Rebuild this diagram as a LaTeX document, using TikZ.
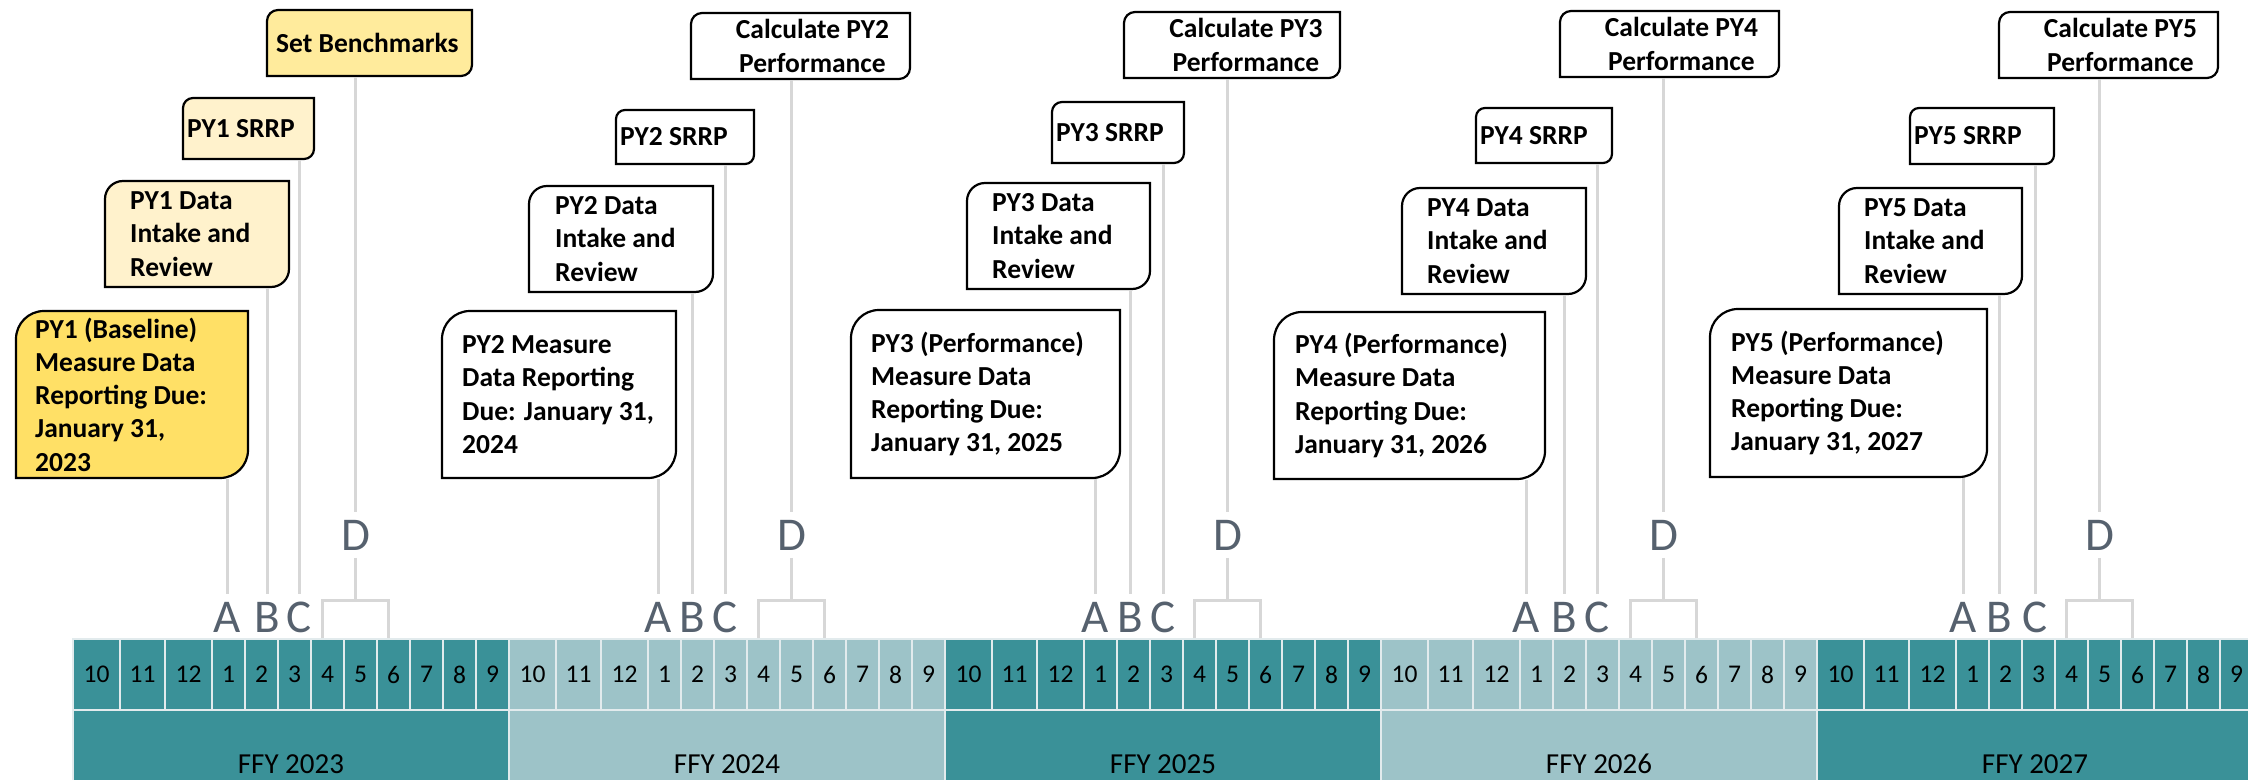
\documentclass[tikz,border=0pt]{standalone}
\usepackage{fontspec}
\setmainfont{Carlito}
\usetikzlibrary{backgrounds,positioning}

\definecolor{tealdark}{RGB}{58,145,152}
\definecolor{teallight}{RGB}{157,195,200}
\definecolor{sepgray}{RGB}{226,235,237}
\definecolor{conngray}{RGB}{215,215,215}
\definecolor{lettergray}{RGB}{86,97,110}
\definecolor{benchfill}{RGB}{255,235,156}
\definecolor{palefill}{RGB}{255,242,204}
\definecolor{goldfill}{RGB}{255,224,102}

\tikzset{
  pybox/.style={anchor=north west, inner sep=0pt, outer sep=0pt},
  boxtxt/.style={inner sep=0pt, align=left, font=\fontsize{27.5}{33.3}\selectfont\bfseries},
  frameline/.style={draw=black, line width=2.2pt, line join=miter},
  conn/.style={draw=conngray, line width=3pt},
  letter/.style={inner sep=7.5pt, text=lettergray, font=\fontsize{47}{50}\selectfont},
  mcell/.style={draw=sepgray, line width=1.5pt, minimum height=71pt, inner sep=0pt, font=\fontsize{25.5}{30}\selectfont},
  ycell/.style={draw=sepgray, line width=1.5pt, minimum height=108pt, minimum width=436pt, inner sep=0pt, font=\fontsize{29}{33}\selectfont}
}

% rectangle with rounded top left and bottom right corners
\newcommand{\diagframe}[3]{%
  \draw[frameline,fill=#3] (#1.south west) -- ([yshift=-#2]#1.north west)
    arc[start angle=180,end angle=90,radius=#2] -- (#1.north east)
    -- ([yshift=#2]#1.south east)
    arc[start angle=0,end angle=-90,radius=#2] -- cycle;}

\begin{document}
\begin{tikzpicture}[x=1pt,y=1pt]
\useasboundingbox (0,0) rectangle (2248,-779);
\clip (0,0) rectangle (2248,-779);

% PY1
\node[pybox, minimum width=205pt, minimum height=66pt] (bench) at (267,-10) {};
\node[pybox, minimum width=131pt, minimum height=61pt] (srrp1) at (183,-98) {};
\node[pybox, minimum width=184pt, minimum height=106pt] (data1) at (105,-181) {};
\node[pybox, minimum width=232pt, minimum height=167pt] (meas1) at (16,-311) {};
\node[boxtxt, right=9pt of bench.west] (bencht) {Set Benchmarks};
\node[boxtxt, right=4pt of srrp1.west] (srrp1t) {PY1 SRRP};
\node[boxtxt, right=25pt of data1.west] (data1t) {PY1 Data\\Intake and\\Review};
\node[boxtxt, right=19pt of meas1.west] (meas1t) {PY1 (Baseline)\\Measure Data\\Reporting Due:\\January 31,\\2023};

% PY2
\node[pybox, minimum width=219pt, minimum height=66pt] (calc2) at (691,-13) {};
\node[pybox, minimum width=138pt, minimum height=54pt] (srrp2) at (616,-110) {};
\node[pybox, minimum width=184pt, minimum height=106pt] (data2) at (529,-186) {};
\node[pybox, minimum width=234pt, minimum height=167pt] (meas2) at (442,-311) {};
\node[boxtxt, align=center] (calc2t) at ([xshift=12pt]calc2.center) {Calculate PY2\\Performance};
\node[boxtxt, right=4pt of srrp2.west] (srrp2t) {PY2 SRRP};
\node[boxtxt, right=26pt of data2.west] (data2t) {PY2 Data\\Intake and\\Review};
\node[boxtxt, right=20pt of meas2.west] (meas2t) {PY2 Measure\\Data Reporting\\Due: January 31,\\2024};

% PY3
\node[pybox, minimum width=216pt, minimum height=66pt] (calc3) at (1124,-12) {};
\node[pybox, minimum width=132pt, minimum height=61pt] (srrp3) at (1052,-102) {};
\node[pybox, minimum width=183pt, minimum height=106pt] (data3) at (967,-183) {};
\node[pybox, minimum width=269pt, minimum height=168pt] (meas3) at (851,-310) {};
\node[boxtxt, align=center] (calc3t) at ([xshift=14pt]calc3.center) {Calculate PY3\\Performance};
\node[boxtxt, right=4pt of srrp3.west] (srrp3t) {PY3 SRRP};
\node[boxtxt, right=25pt of data3.west] (data3t) {PY3 Data\\Intake and\\Review};
\node[boxtxt, right=20pt of meas3.west] (meas3t) {PY3 (Performance)\\Measure Data\\Reporting Due:\\January 31, 2025};

% PY4
\node[pybox, minimum width=219pt, minimum height=66pt] (calc4) at (1560,-11) {};
\node[pybox, minimum width=136pt, minimum height=55pt] (srrp4) at (1476,-108) {};
\node[pybox, minimum width=184pt, minimum height=106pt] (data4) at (1402,-188) {};
\node[pybox, minimum width=271pt, minimum height=167pt] (meas4) at (1274,-312) {};
\node[boxtxt, align=center] (calc4t) at ([xshift=12pt]calc4.center) {Calculate PY4\\Performance};
\node[boxtxt, right=4pt of srrp4.west] (srrp4t) {PY4 SRRP};
\node[boxtxt, right=25pt of data4.west] (data4t) {PY4 Data\\Intake and\\Review};
\node[boxtxt, right=21pt of meas4.west] (meas4t) {PY4 (Performance)\\Measure Data\\Reporting Due:\\January 31, 2026};

% PY5
\node[pybox, minimum width=219pt, minimum height=66pt] (calc5) at (1999,-12) {};
\node[pybox, minimum width=144pt, minimum height=56pt] (srrp5) at (1910,-108) {};
\node[pybox, minimum width=183pt, minimum height=106pt] (data5) at (1839,-188) {};
\node[pybox, minimum width=277pt, minimum height=168pt] (meas5) at (1710,-309) {};
\node[boxtxt, align=center] (calc5t) at ([xshift=12pt]calc5.center) {Calculate PY5\\Performance};
\node[boxtxt, right=4pt of srrp5.west] (srrp5t) {PY5 SRRP};
\node[boxtxt, right=25pt of data5.west] (data5t) {PY5 Data\\Intake and\\Review};
\node[boxtxt, right=21pt of meas5.west] (meas5t) {PY5 (Performance)\\Measure Data\\Reporting Due:\\January 31, 2027};

\begin{scope}[on background layer]
\foreach \f/\r/\col in {bench/11pt/benchfill, srrp1/10pt/palefill, data1/18pt/palefill, meas1/28pt/goldfill,
    calc2/11pt/white, srrp2/9pt/white, data2/18pt/white, meas2/28pt/white,
    calc3/11pt/white, srrp3/10pt/white, data3/18pt/white, meas3/28pt/white,
    calc4/11pt/white, srrp4/9pt/white, data4/18pt/white, meas4/28pt/white,
    calc5/11pt/white, srrp5/9pt/white, data5/18pt/white, meas5/28pt/white}
  \diagframe{\f}{\r}{\col};
\end{scope}

% months and fiscal years
\foreach \n/\cfill/\fy in {1/tealdark/2023, 2/teallight/2024, 3/tealdark/2025, 4/teallight/2026, 5/tealdark/2027}{
  \pgfmathsetmacro\xs{73+436*(\n-1)}
  \foreach \i/\mo/\off/\w in {1/10/0/47, 2/11/47/45, 3/12/92/47, 4/1/139/33, 5/2/172/33, 6/3/205/33,
      7/4/238/33, 8/5/271/33, 9/6/304/33, 10/7/337/33, 11/8/370/33, 12/9/403/33}
    \node[mcell, fill=\cfill, minimum width=\w pt] (c\n-\i) at (\xs+\off+\w/2,-674.5) {\mo};
  \node[ycell, fill=\cfill] (y\n) at (\xs+218,-764) {FFY \fy};
}

% milestone letters
\foreach \n/\ax/\bx/\cx in {1/227/267/299, 2/658/692/725, 3/1095/1130/1163, 4/1526/1564/1597, 5/1963/1999/2035}{
  \pgfmathsetmacro\xd{73+436*(\n-1)+282.5}
  \node[letter, anchor=base] (A\n) at (\ax,-632) {A};
  \node[letter, anchor=base] (B\n) at (\bx,-632) {B};
  \node[letter, anchor=base] (C\n) at (\cx,-632) {C};
  \node[letter] (D\n) at (\xd,-535) {D};
}

% connectors
\foreach \n/\top in {1/bench, 2/calc2, 3/calc3, 4/calc4, 5/calc5}{
  \draw[conn, shorten <=1pt] (meas\n.south -| A\n) -- (A\n.north);
  \draw[conn, shorten <=1pt] (data\n.south -| B\n) -- (B\n.north);
  \draw[conn, shorten <=1pt] (srrp\n.south -| C\n) -- (C\n.north);
  \draw[conn, shorten <=1pt] (\top.south -| D\n) -- (D\n.north);
  \draw[conn] (D\n.south) -- ++(0,-42.5) coordinate (k\n);
  \draw[conn] ([xshift=-5pt]c\n-7.north) |- (k\n) -| ([xshift=-5pt]c\n-9.north);
}
\end{tikzpicture}
\end{document}
